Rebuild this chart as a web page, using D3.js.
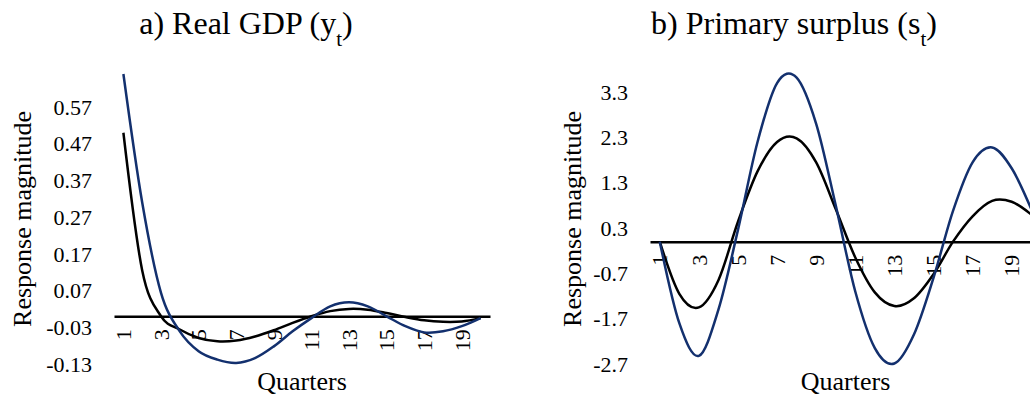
<!DOCTYPE html>
<meta charset="utf-8">
<script src="https://cdn.jsdelivr.net/npm/d3@7"></script>
<style>
body { margin: 0; background: #fff; }
.line { fill: none; stroke-width: 2.5px; }
</style>
<body>
<script>

var quarters = d3.range(1, 21);

// a) Real GDP
var gdpTicks = [-0.13, -0.03, 0.07, 0.17, 0.27, 0.37, 0.47, 0.57];
var gdpBlack = [0.50, 0.125, 0.0, -0.036, -0.059, -0.068, -0.066, -0.055, -0.038, -0.018,
                0.0, 0.014, 0.02, 0.018, 0.009, -0.002, -0.011, -0.015, -0.014, -0.005];
var gdpBlue  = [0.66, 0.31, 0.064, -0.041, -0.095, -0.118, -0.127, -0.114, -0.082, -0.041,
                -0.005, 0.027, 0.038, 0.027, 0.0, -0.027, -0.044, -0.041, -0.027, -0.005];

// b) Primary surplus
var sTicks = [-2.7, -1.7, -0.7, 0.3, 1.3, 2.3, 3.3];
var sBlack = [0, -1.15, -1.45, -0.85, 0.44, 1.55, 2.2, 2.28, 1.75, 0.72,
              -0.35, -1.12, -1.42, -1.25, -0.72, 0.0, 0.56, 0.9, 0.88, 0.6];
var sBlue  = [0, -1.8, -2.52, -1.5, 0.26, 2.2, 3.5, 3.62, 2.6, 0.8,
              -1.1, -2.35, -2.69, -2.05, -0.8, 0.68, 1.75, 2.08, 1.62, 0.72];

var serif = "'Liberation Serif'";

var svg = d3.select("body").append("svg")
    .attr("width", 1030)
    .attr("height", 400);

function panel(o) {
  var x = d3.scaleBand().domain(quarters).range([o.x0, o.x1]);
  var y = d3.scaleLinear().domain(o.domain).range([364, 74]);
  var g = svg.append("g");

  var t = g.append("text")
      .style("font-family", serif)
      .style("font-size", "32px")
      .attr("x", o.titleX).attr("y", 34)
      .attr("text-anchor", "middle")
      .text(o.title);
  t.append("tspan")
      .attr("baseline-shift", "sub")
      .style("font-size", "21px")
      .text(o.sub);
  t.append("tspan").text(")");

  // y tick labels, no axis line
  g.selectAll(".ylab")
      .data(o.ticks)
    .enter().append("text")
      .attr("class", "ylab")
      .style("font-family", serif)
      .style("font-size", "22px")
      .attr("x", o.x0 - 22)
      .attr("y", function(d) { return y(d); })
      .attr("dy", "0.35em")
      .attr("text-anchor", "end")
      .text(function(d) { return d; });

  // x axis through zero
  var ax = g.append("g")
      .attr("transform", "translate(0," + y(0) + ")")
      .call(d3.axisBottom(x).tickSize(0)
        .tickFormat(function(d) { return d % 2 ? d : ""; }));
  ax.attr("font-family", null).attr("font-size", null);
  ax.select(".domain").attr("stroke", "#000").attr("stroke-width", 2.5);
  ax.selectAll(".tick text")
      .style("font-family", serif)
      .style("font-size", "22px")
      .attr("transform", "rotate(-90)")
      .attr("x", -13).attr("y", 0).attr("dy", "0.35em")
      .attr("text-anchor", "end")
      .attr("fill", "#000");

  var line = d3.line()
      .x(function(d, i) { return x(quarters[i]) + x.bandwidth() / 2; })
      .y(function(d) { return y(d); })
      .curve(d3.curveCardinal.tension(0));

  g.append("path").attr("class", "line").attr("stroke", "#000").attr("d", line(o.black));
  g.append("path").attr("class", "line").attr("stroke", "#13306e").attr("d", line(o.blue));

  g.append("text")
      .style("font-family", serif)
      .style("font-size", "26px")
      .attr("transform", "translate(" + o.ylabX + ",219) rotate(-90)")
      .attr("text-anchor", "middle")
      .text("Response magnitude");

  g.append("text")
      .style("font-family", serif)
      .style("font-size", "26px")
      .attr("x", (o.x0 + o.x1) / 2).attr("y", 390)
      .attr("text-anchor", "middle")
      .text("Quarters");
}

panel({x0: 114, x1: 490, domain: [-0.13, 0.66], ticks: gdpTicks,
       black: gdpBlack, blue: gdpBlue, title: "a) Real GDP (y", sub: "t",
       titleX: 246, ylabX: 31});
panel({x0: 650, x1: 1041, domain: [-2.7, 3.7], ticks: sTicks,
       black: sBlack, blue: sBlue, title: "b) Primary surplus (s", sub: "t",
       titleX: 794, ylabX: 581});

</script>
